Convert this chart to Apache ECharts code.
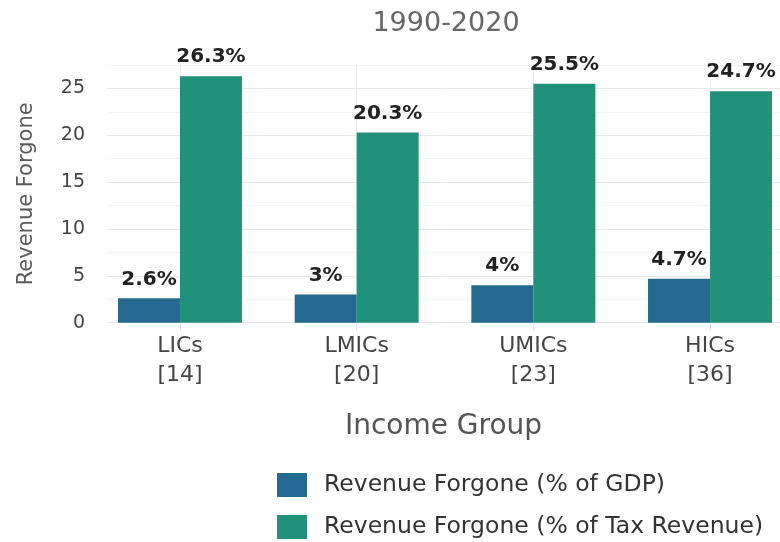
<!DOCTYPE html>
<html>
<head>
<meta charset="utf-8">
<script src="https://cdn.jsdelivr.net/npm/echarts@6/dist/echarts.min.js"></script>
<style>html,body{margin:0;padding:0;background:#fff}#c{width:780px;height:542px}</style>
</head>
<body>
<div id="c"></div>
<script>
const categories = ['LICs', 'LMICs', 'UMICs', 'HICs'];
const counts = [14, 20, 23, 36];
const gdpValues = [2.6, 3, 4, 4.7];
const taxValues = [26.3, 20.3, 25.5, 24.7];
const seriesNames = ['Revenue Forgone (% of GDP)', 'Revenue Forgone (% of Tax Revenue)'];
const yTicks = [0, 5, 10, 15, 20, 25];

const FONT = "'DejaVu Sans', 'Open Sans', sans-serif";
const catIdx = categories.map((c, i) => i);
const catLabel = i => categories[i] + '\n[' + counts[i] + ']';

const chart = echarts.init(document.getElementById('c'), null, {renderer: 'canvas'});
const labelStyle = {
  show: true, position: 'top', distance: 9,
  formatter: p => p.value[1] + '%',
  fontFamily: FONT, fontWeight: 'bold', fontSize: 20, color: '#222'
};
const legendBase = {
  orient: 'vertical', left: 272,
  itemWidth: 30, itemHeight: 24, icon: 'rect',
  textStyle: {fontFamily: FONT, fontSize: 23.5, color: '#333', padding: [0, 0, 0, 12]}
};
chart.setOption({
  animation: false,
  backgroundColor: '#fff',
  title: {
    text: '1990-2020', left: 441, top: 5, textAlign: 'center',
    textStyle: {fontFamily: FONT, fontWeight: 'normal', fontSize: 27, color: '#666'}
  },
  grid: {left: 107, right: 0, top: 65, bottom: 219.3, containLabel: false},
  legend: [
    Object.assign({data: [seriesNames[0]], top: 468}, legendBase),
    Object.assign({data: [seriesNames[1]], top: 510}, legendBase)
  ],
  xAxis: {
    type: 'value', min: -0.413, max: 3.396,
    name: 'Income Group', nameLocation: 'middle', nameGap: 90,
    nameTextStyle: {fontFamily: FONT, fontSize: 28, color: '#555'},
    axisLine: {show: false},
    axisTick: {show: true, customValues: catIdx, length: 8, lineStyle: {color: '#e3e3e3'}},
    axisLabel: {
      customValues: catIdx, formatter: v => catLabel(Math.round(v)),
      fontFamily: FONT, fontSize: 22, lineHeight: 29, color: '#444', margin: 9
    },
    splitLine: {show: false}
  },
  yAxis: {
    type: 'value', min: 0, max: 27.5, interval: 2.5,
    name: 'Revenue Forgone', nameLocation: 'middle', nameGap: 70,
    nameTextStyle: {fontFamily: FONT, fontSize: 21, color: '#5a5a5a'},
    axisLine: {show: false}, axisTick: {show: false},
    axisLabel: {
      fontFamily: FONT, fontSize: 19, color: '#444', margin: 22,
      formatter: v => yTicks.indexOf(v) >= 0 ? String(v) : ''
    },
    splitLine: {show: true, lineStyle: {color: ['#e8e8e8', '#f3f3f3'], width: 1}}
  },
  series: [
    {
      name: 'vgrid', type: 'line', data: [], z: 0, silent: true,
      markLine: {
        z: 0, silent: true, symbol: ['none', 'none'], label: {show: false},
        lineStyle: {color: '#efefef', type: 'solid', width: 1},
        data: catIdx.map(i => ({xAxis: i}))
      }
    },
    {
      name: seriesNames[0], type: 'bar', data: catIdx.map(i => [i, gdpValues[i]]),
      barWidth: 62, barGap: '0%',
      itemStyle: {color: '#24698F'}, label: labelStyle, z: 3
    },
    {
      name: seriesNames[1], type: 'bar', data: catIdx.map(i => [i, taxValues[i]]),
      barWidth: 62, barGap: '0%',
      itemStyle: {color: '#20917B'}, label: labelStyle, z: 3
    }
  ]
});
</script>
</body>
</html>
